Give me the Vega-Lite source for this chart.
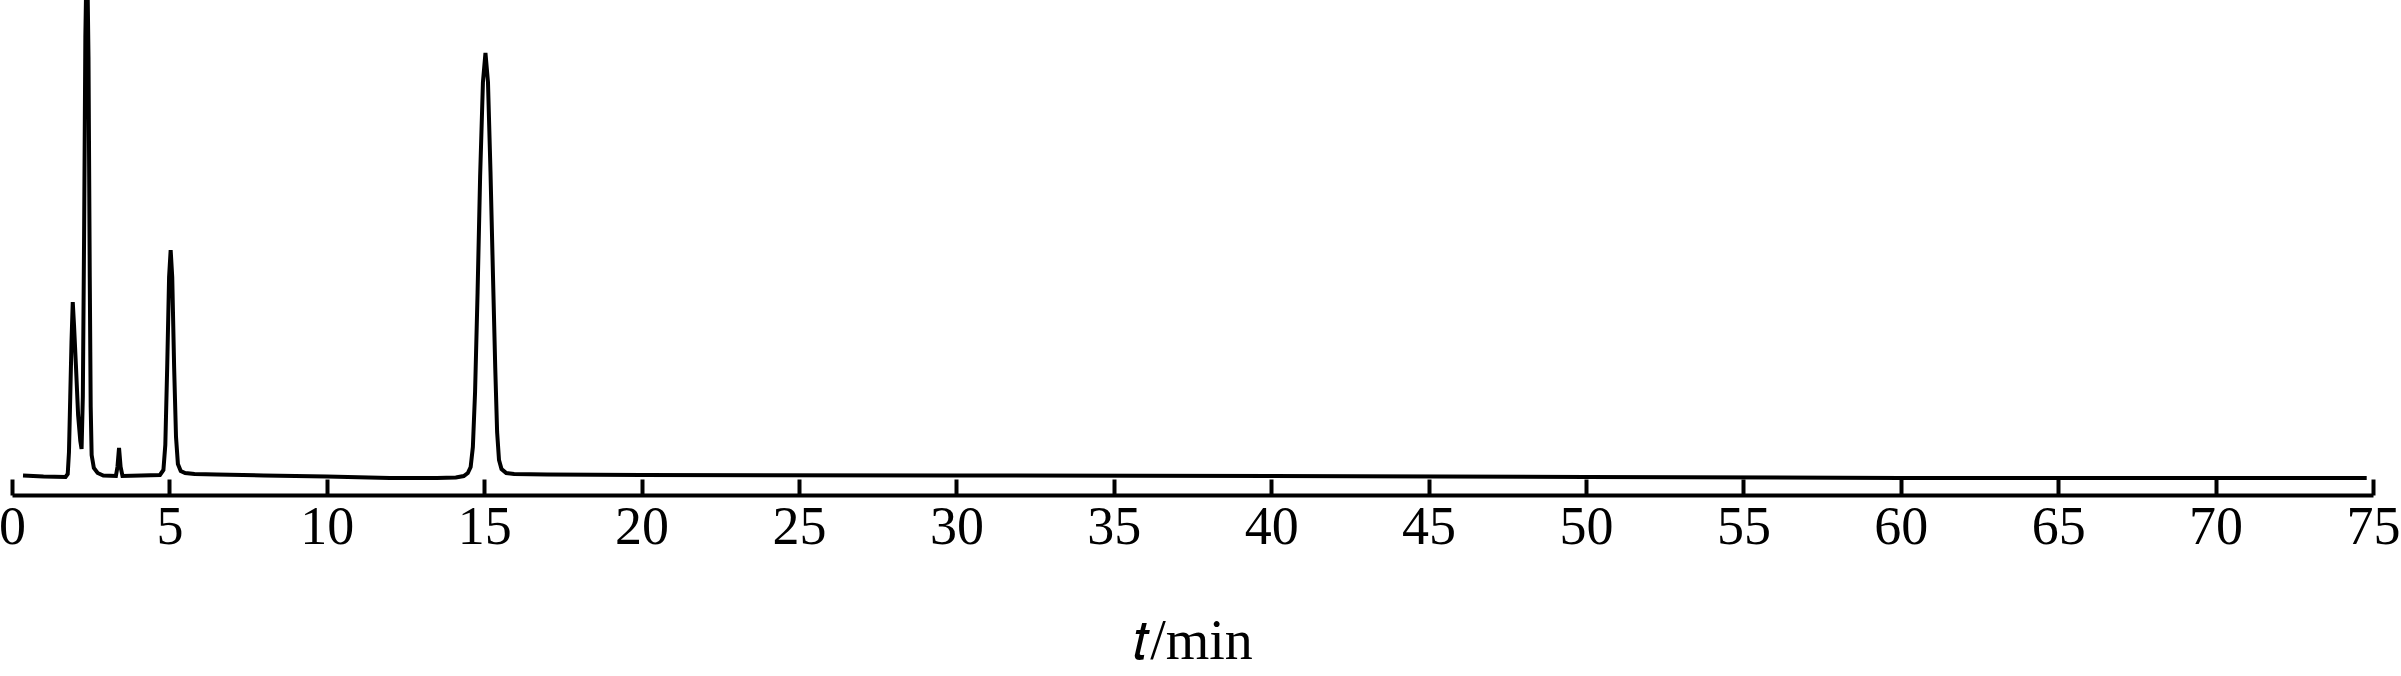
{
  "$schema": "https://vega.github.io/schema/vega-lite/v6.json",
  "width": 2361,
  "height": 495,
  "autosize": "none",
  "padding": {"left": 12, "top": 0, "right": 28, "bottom": 181},
  "background": "white",
  "config": {"view": {"stroke": null}},
  "data": {"values": [
    {"t": 0.35, "v": 1.5}, {"t": 1.0, "v": 0.5}, {"t": 1.70, "v": 0}, {"t": 1.77, "v": 3},
    {"t": 1.81, "v": 25}, {"t": 1.85, "v": 80}, {"t": 1.89, "v": 135}, {"t": 1.93, "v": 175},
    {"t": 1.97, "v": 152}, {"t": 2.03, "v": 112}, {"t": 2.10, "v": 62}, {"t": 2.17, "v": 36},
    {"t": 2.21, "v": 28}, {"t": 2.25, "v": 80}, {"t": 2.29, "v": 240}, {"t": 2.33, "v": 440},
    {"t": 2.38, "v": 540}, {"t": 2.43, "v": 420}, {"t": 2.47, "v": 200}, {"t": 2.50, "v": 70},
    {"t": 2.53, "v": 22}, {"t": 2.60, "v": 9}, {"t": 2.72, "v": 4}, {"t": 2.90, "v": 1.5},
    {"t": 3.30, "v": 1}, {"t": 3.35, "v": 10}, {"t": 3.40, "v": 29}, {"t": 3.45, "v": 10},
    {"t": 3.51, "v": 1}, {"t": 4.70, "v": 2}, {"t": 4.81, "v": 7}, {"t": 4.87, "v": 32},
    {"t": 4.93, "v": 110}, {"t": 4.99, "v": 200}, {"t": 5.04, "v": 227}, {"t": 5.09, "v": 200},
    {"t": 5.15, "v": 110}, {"t": 5.21, "v": 40}, {"t": 5.27, "v": 13}, {"t": 5.36, "v": 6},
    {"t": 5.50, "v": 4}, {"t": 5.80, "v": 3}, {"t": 6.5, "v": 2.5}, {"t": 8.0, "v": 1.5},
    {"t": 10.0, "v": 0.5}, {"t": 12.0, "v": -1}, {"t": 13.5, "v": -1}, {"t": 14.1, "v": -0.5},
    {"t": 14.35, "v": 1}, {"t": 14.48, "v": 4}, {"t": 14.57, "v": 10}, {"t": 14.64, "v": 30},
    {"t": 14.71, "v": 85}, {"t": 14.79, "v": 185}, {"t": 14.87, "v": 300}, {"t": 14.96, "v": 395},
    {"t": 15.04, "v": 424}, {"t": 15.12, "v": 395}, {"t": 15.20, "v": 305}, {"t": 15.28, "v": 200},
    {"t": 15.35, "v": 110}, {"t": 15.41, "v": 45}, {"t": 15.47, "v": 17}, {"t": 15.55, "v": 8},
    {"t": 15.70, "v": 4}, {"t": 15.95, "v": 3}, {"t": 17.0, "v": 2.5}, {"t": 20.0, "v": 2},
    {"t": 30.0, "v": 1.5}, {"t": 40.0, "v": 1}, {"t": 50.0, "v": 0}, {"t": 60.0, "v": -1},
    {"t": 70.0, "v": -1}, {"t": 74.8, "v": -1}
  ]},
  "mark": {"type": "line", "color": "black", "strokeWidth": 4, "clip": true, "interpolate": "linear"},
  "encoding": {
    "x": {
      "field": "t", "type": "quantitative",
      "scale": {"domain": [0, 75], "nice": false, "zero": false},
      "axis": {
        "title": "𝑡/min",
        "values": [0,5,10,15,20,25,30,35,40,45,50,55,60,65,70,75],
        "format": "d",
        "grid": false,
        "domainColor": "black", "domainWidth": 4,
        "tickColor": "black", "tickWidth": 4, "tickSize": -16,
        "labelFont": "Liberation Serif", "labelFontSize": 54, "labelColor": "black",
        "labelPadding": 21, "labelFlush": false, "labelOverlap": false,
        "titleFont": "Liberation Serif", "titleFontSize": 56, "titleFontWeight": "normal",
        "titleColor": "black", "titlePadding": 60
      }
    },
    "y": {
      "field": "v", "type": "quantitative",
      "scale": {"domain": [-18, 477], "nice": false, "zero": false},
      "axis": null
    }
  }
}
